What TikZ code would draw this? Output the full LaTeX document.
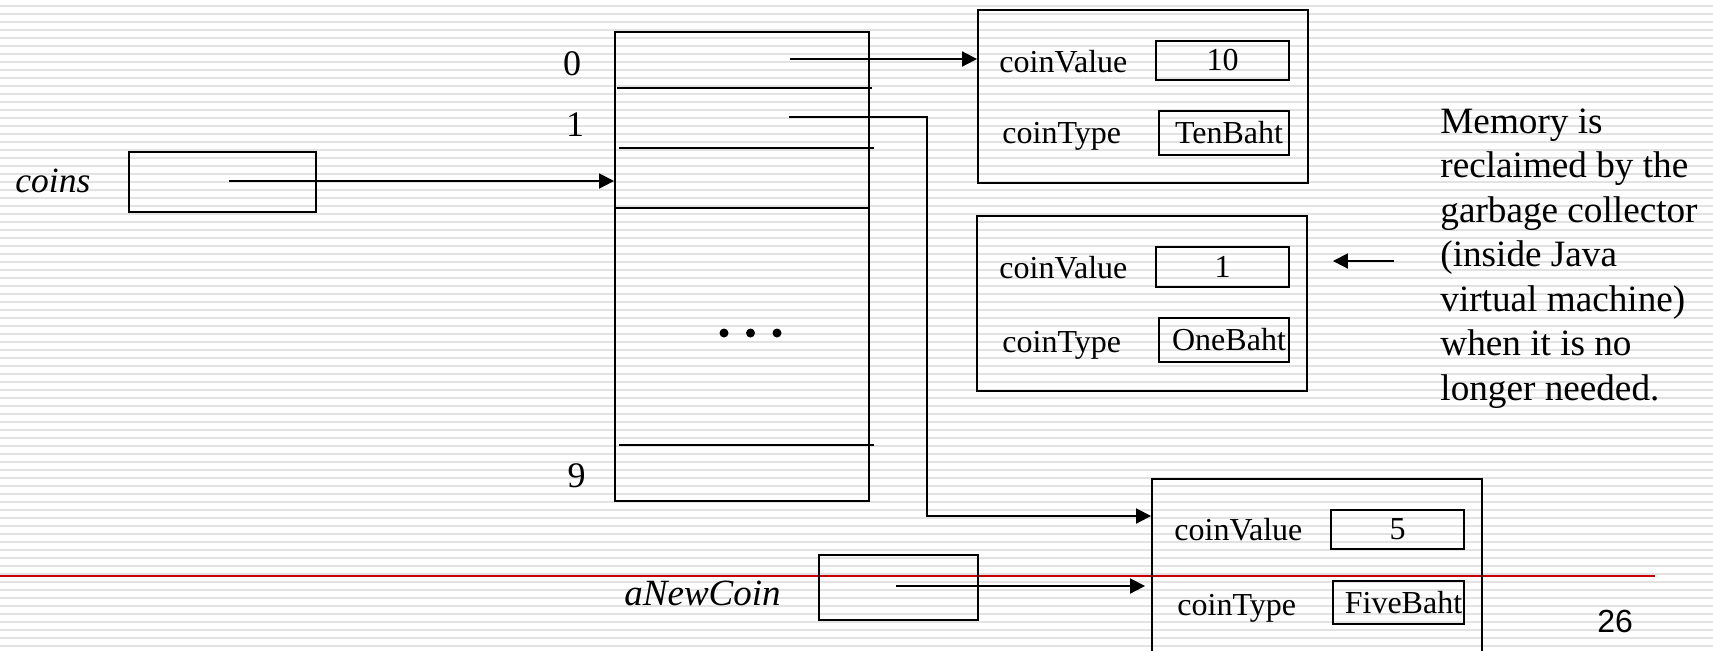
\documentclass[tikz,border=0pt]{standalone}
\usepackage{fontspec}
\setmainfont{Liberation Serif}
\newfontfamily\pagenumfont{Liberation Sans}
\usetikzlibrary{arrows.meta}
\newcommand\pxsize[1]{\fontsize{#1}{#1}\selectfont}
\definecolor{stripegray}{RGB}{226,226,226}
\definecolor{rulered}{RGB}{200,0,0}

\begin{document}
\begin{tikzpicture}[x=0.5pt,y=-0.5pt,
  stripe/.style={fill=stripegray},
  outline/.style={draw=black,line width=0.95pt,inner sep=0pt},
  boxsize/.style 2 args={minimum width=#1*0.5pt,minimum height=#2*0.5pt},
  field/.style={inner sep=0pt,anchor=base west,font=\pxsize{16pt}},
  valuebox/.style={outline,font=\pxsize{16pt}},
  varname/.style={inner sep=0pt,anchor=base west,font=\itshape\pxsize{#1}},
  index/.style={inner sep=0pt,anchor=base,font=\pxsize{18pt}},
  note/.style={inner sep=0pt,anchor=base west,font=\pxsize{18.6pt}},
  ptr/.style={line width=0.95pt,-{Triangle[length=7.5pt,width=7.5pt]}},
  divider/.style={line width=0.95pt}]

\useasboundingbox (0,0) rectangle (1713,650);
\clip (0,0) rectangle (1713,650);

% lined background and red rule
\fill[white] (0,0) rectangle (1713,650);
\foreach \k in {0,...,80}
  \fill[stripe] (0,{5+8*\k}) rectangle (1713,{7+8*\k});
\draw[rulered,line width=0.6pt] (0,576) -- (1655,576);

% reference variable coins
\node[varname=17.75pt] (coinslabel) at (15,192) {coins};
\node[outline,boxsize={187}{60}] (coinsbox) at (222.5,182) {};
\coordinate (coinsptr) at (229,181);

% the array of ten references
\node[outline,boxsize={254}{469}] (arr) at (742,266.5) {};
\draw[divider] (617,88) -- (872,88);
\draw[divider] (619,148) -- (874,148);
\draw[divider] (615,208) -- (869,208);
\draw[divider] (619,445) -- (874,445);
\node[index] (i0) at (572,75) {0};
\node[index] (i1) at (575,136) {1};
\node[index] (i9) at (576.5,487) {9};
\foreach \x in {724,750.5,777}
  \fill (\x,333) circle[radius=2.25pt];
\coordinate (ptr0) at (790,59);
\coordinate (ptr1) at (789,117);
\coordinate (bend1) at (927,516);

% object TenBaht
\node[outline,boxsize={330}{173}] (obj1) at (1143,96.5) {};
\node[field] (f1a) at (999,72) {coinValue};
\node[valuebox,boxsize={133}{39}] (v1) at (1222.5,60.5) {10};
\node[field] (f1b) at (1002,143) {coinType};
\node[valuebox,boxsize={130}{44}] (t1) at (1224,133) {\hspace*{5pt}TenBaht};

% object OneBaht (no longer referenced)
\node[outline,boxsize={330}{175}] (obj2) at (1142,303.5) {};
\node[field] (f2a) at (999,278) {coinValue};
\node[valuebox,boxsize={133}{40}] (v2) at (1222.5,267) {1};
\node[field] (f2b) at (1002,352) {coinType};
\node[valuebox,boxsize={130}{44}] (t2) at (1224,340) {\hspace*{5pt}OneBaht};

% object FiveBaht
\node[outline,boxsize={330}{221}] (obj3) at (1317,589.5) {};
\node[field] (f3a) at (1174,540) {coinValue};
\node[valuebox,boxsize={133}{39}] (v3) at (1397.5,529.5) {5};
\node[field] (f3b) at (1177,615) {coinType};
\node[valuebox,boxsize={131}{43}] (t3) at (1398.5,602.5) {\hspace*{5pt}FiveBaht};

% reference variable aNewCoin
\node[varname=18.5pt] (newlabel) at (624,605) {aNewCoin};
\node[outline,boxsize={159}{65}] (newbox) at (898.5,587.5) {};
\coordinate (newptr) at (896,586);

% garbage collector note
\node[note] (m1) at (1440,133) {Memory is};
\node[note] (m2) at (1440,177.5) {reclaimed by the};
\node[note] (m3) at (1440,222) {garbage collector};
\node[note] (m4) at (1440,266.5) {(inside Java};
\node[note] (m5) at (1440,311) {virtual machine)};
\node[note] (m6) at (1440,355.5) {when it is no};
\node[note] (m7) at (1440,400) {longer needed.};
\coordinate (gcfrom) at (1394,261);

% page number
\node[inner sep=0pt,anchor=base west,font=\pagenumfont\pxsize{16pt}] (pagenum) at (1597,632) {26};

% references
\draw[ptr] (coinsptr) -- (coinsptr -| arr.west);
\draw[ptr] (ptr0) -- (ptr0 -| obj1.west);
\draw[ptr] (ptr1) -| (bend1) -- (bend1 -| obj3.west);
\draw[ptr] (newptr) -- ([xshift=-3pt]newptr -| obj3.west);
\draw[ptr] (gcfrom) -- ([xshift=12.5pt]gcfrom -| obj2.east);
\end{tikzpicture}
\end{document}
